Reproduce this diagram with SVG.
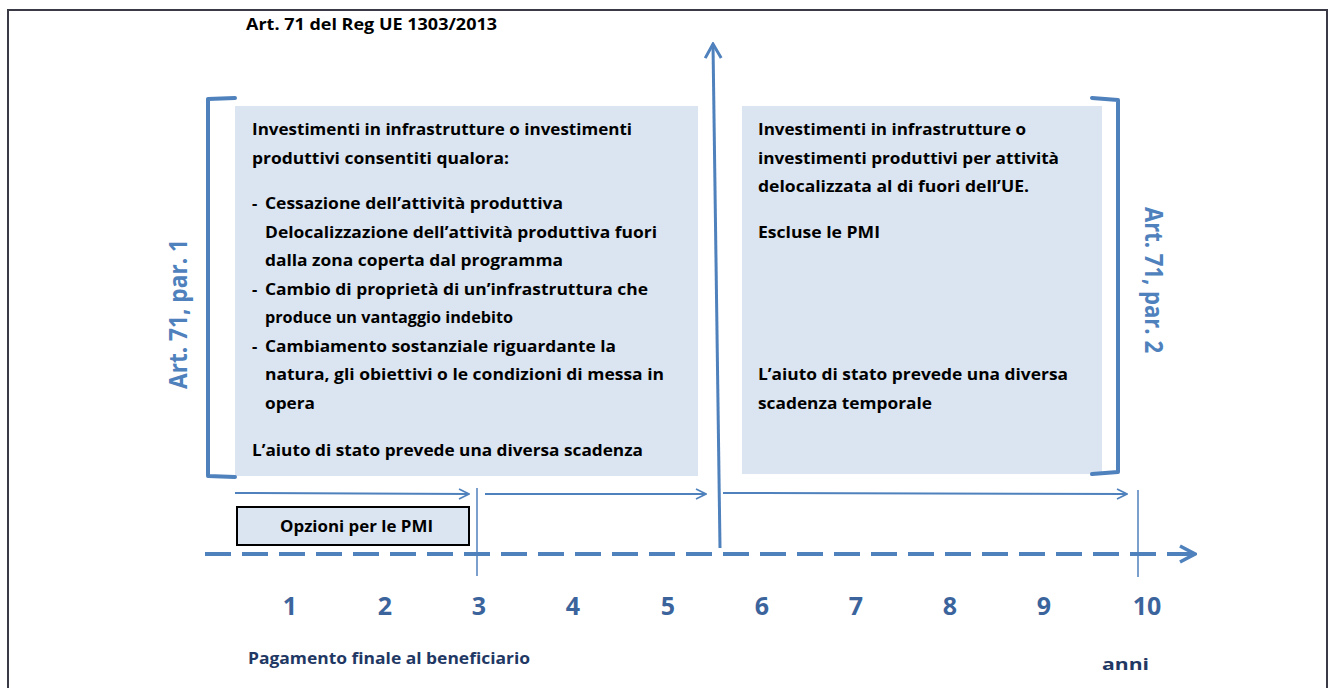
<svg xmlns="http://www.w3.org/2000/svg" width="1330" height="688" viewBox="0 0 1330 688">
<defs>
<style>
.t{font-family:"Open Sans","Noto Sans","Liberation Sans",sans-serif;font-weight:bold;fill:#000;font-size:16.5px}
.blue{fill:#4f81bd;font-size:25px}
.num{fill:#3c649c;font-size:25px;text-anchor:middle}
.navy{fill:#1f3864;font-size:16px}
.box{fill:#dbe5f1}
.br{fill:none;stroke:#4f81bd;stroke-width:4;stroke-linejoin:round;stroke-linecap:round}
.ar{fill:none;stroke:#4f81bd;stroke-width:2}
.tick{stroke:#4f81bd;stroke-width:1.5}
</style>
<marker id="ah" viewBox="0 0 12 12" refX="11" refY="6" markerWidth="12" markerHeight="12" markerUnits="userSpaceOnUse" orient="auto">
<path d="M1,1 L11,6 L1,11" fill="none" stroke="#4f81bd" stroke-width="1.6"/>
</marker>
<marker id="ahBig" viewBox="0 0 20 20" refX="18" refY="10" markerWidth="20" markerHeight="20" markerUnits="userSpaceOnUse" orient="auto">
<path d="M3,2 L18,10 L3,18" fill="none" stroke="#4f81bd" stroke-width="3.5"/>
</marker>
<marker id="ahUp" viewBox="0 0 20 20" refX="18" refY="10" markerWidth="20" markerHeight="20" markerUnits="userSpaceOnUse" orient="auto">
<path d="M4,2 L18,10 L4,18" fill="none" stroke="#4f81bd" stroke-width="3"/>
</marker>
</defs>
<rect x="0" y="0" width="1330" height="688" fill="#fff"/>
<rect x="8" y="10" width="1319" height="690" fill="none" stroke="#3a3a46" stroke-width="2"/>

<g id="title"><text class="t" x="246" y="30" font-size="15.5" textLength="251" lengthAdjust="spacingAndGlyphs">Art. 71 del Reg UE 1303/2013</text></g>

<g id="box-left">
<rect class="box" x="235" y="106" width="463" height="370"/>
<text class="t" x="252" y="135" textLength="380" lengthAdjust="spacingAndGlyphs">Investimenti in infrastrutture o investimenti</text>
<text class="t" x="252" y="164" textLength="257" lengthAdjust="spacingAndGlyphs">produttivi consentiti qualora:</text>
<text class="t" x="252" y="209">-</text>
<text class="t" x="265" y="209" textLength="298" lengthAdjust="spacingAndGlyphs">Cessazione dell’attività produttiva</text>
<text class="t" x="265" y="238" textLength="392" lengthAdjust="spacingAndGlyphs">Delocalizzazione dell’attività produttiva fuori</text>
<text class="t" x="265" y="266" textLength="298" lengthAdjust="spacingAndGlyphs">dalla zona coperta dal programma</text>
<text class="t" x="252" y="295">-</text>
<text class="t" x="265" y="295" textLength="383" lengthAdjust="spacingAndGlyphs">Cambio di proprietà di un’infrastruttura che</text>
<text class="t" x="265" y="323" textLength="248" lengthAdjust="spacingAndGlyphs">produce un vantaggio indebito</text>
<text class="t" x="252" y="352">-</text>
<text class="t" x="265" y="352" textLength="351" lengthAdjust="spacingAndGlyphs">Cambiamento sostanziale riguardante la</text>
<text class="t" x="265" y="380" textLength="399" lengthAdjust="spacingAndGlyphs">natura, gli obiettivi o le condizioni di messa in</text>
<text class="t" x="265" y="409" textLength="50" lengthAdjust="spacingAndGlyphs">opera</text>
<text class="t" x="252" y="456" textLength="391" lengthAdjust="spacingAndGlyphs">L’aiuto di stato prevede una diversa scadenza</text>
</g>

<g id="box-right">
<rect class="box" x="742" y="106" width="360" height="368"/>
<text class="t" x="758" y="135" textLength="268" lengthAdjust="spacingAndGlyphs">Investimenti in infrastrutture o</text>
<text class="t" x="758" y="164" textLength="301" lengthAdjust="spacingAndGlyphs">investimenti produttivi per attività</text>
<text class="t" x="758" y="192" textLength="271" lengthAdjust="spacingAndGlyphs">delocalizzata al di fuori dell’UE.</text>
<text class="t" x="758" y="238" textLength="122" lengthAdjust="spacingAndGlyphs">Escluse le PMI</text>
<text class="t" x="758" y="380" textLength="310" lengthAdjust="spacingAndGlyphs">L’aiuto di stato prevede una diversa</text>
<text class="t" x="758" y="409" textLength="174" lengthAdjust="spacingAndGlyphs">scadenza temporale</text>
</g>

<g id="bracket-left">
<path class="br" d="M235,98 L208,99 L208,476 L235,477"/>
<text class="t blue" transform="translate(187,389) rotate(-90)" textLength="150" lengthAdjust="spacingAndGlyphs">Art. 71, par. 1</text>
</g>
<g id="bracket-right">
<path class="br" d="M1092,98 L1118,100 L1118,472 L1092,474"/>
<text class="t blue" transform="translate(1145,207) rotate(90)" textLength="146" lengthAdjust="spacingAndGlyphs">Art. 71, par. 2</text>
</g>

<g id="pmi">
<rect x="237" y="507" width="232" height="38" fill="#dbe5f1" stroke="#000" stroke-width="2"/>
<text class="t" x="280" y="532" textLength="153" lengthAdjust="spacingAndGlyphs">Opzioni per le PMI</text>
</g>

<g id="connectors">
<line x1="720" y1="548" x2="713" y2="44" stroke="#4f81bd" stroke-width="3" marker-end="url(#ahUp)"/>
<line class="ar" x1="235" y1="493" x2="469" y2="494" marker-end="url(#ah)"/>
<line class="ar" x1="485" y1="494" x2="706" y2="494" marker-end="url(#ah)"/>
<line class="ar" x1="723" y1="493" x2="1127" y2="494" marker-end="url(#ah)"/>
<line class="tick" x1="477" y1="488" x2="477" y2="576"/>
<line class="tick" x1="1138" y1="490" x2="1138" y2="577"/>
<line x1="205" y1="554" x2="1195" y2="554" stroke="#4f81bd" stroke-width="4" stroke-dasharray="26,11" marker-end="url(#ahBig)"/>
</g>

<g id="axis-labels">
<text class="t num" x="290" y="615">1</text>
<text class="t num" x="385" y="615">2</text>
<text class="t num" x="479" y="615">3</text>
<text class="t num" x="573" y="615">4</text>
<text class="t num" x="668" y="615">5</text>
<text class="t num" x="762" y="615">6</text>
<text class="t num" x="856" y="615">7</text>
<text class="t num" x="950" y="615">8</text>
<text class="t num" x="1044" y="615">9</text>
<text class="t num" x="1147" y="615">10</text>
<text class="t navy" x="248" y="664" textLength="282" lengthAdjust="spacingAndGlyphs">Pagamento finale al beneficiario</text>
<text class="t navy" x="1102" y="670" font-size="18" textLength="47" lengthAdjust="spacingAndGlyphs">anni</text>
</g>
</svg>
